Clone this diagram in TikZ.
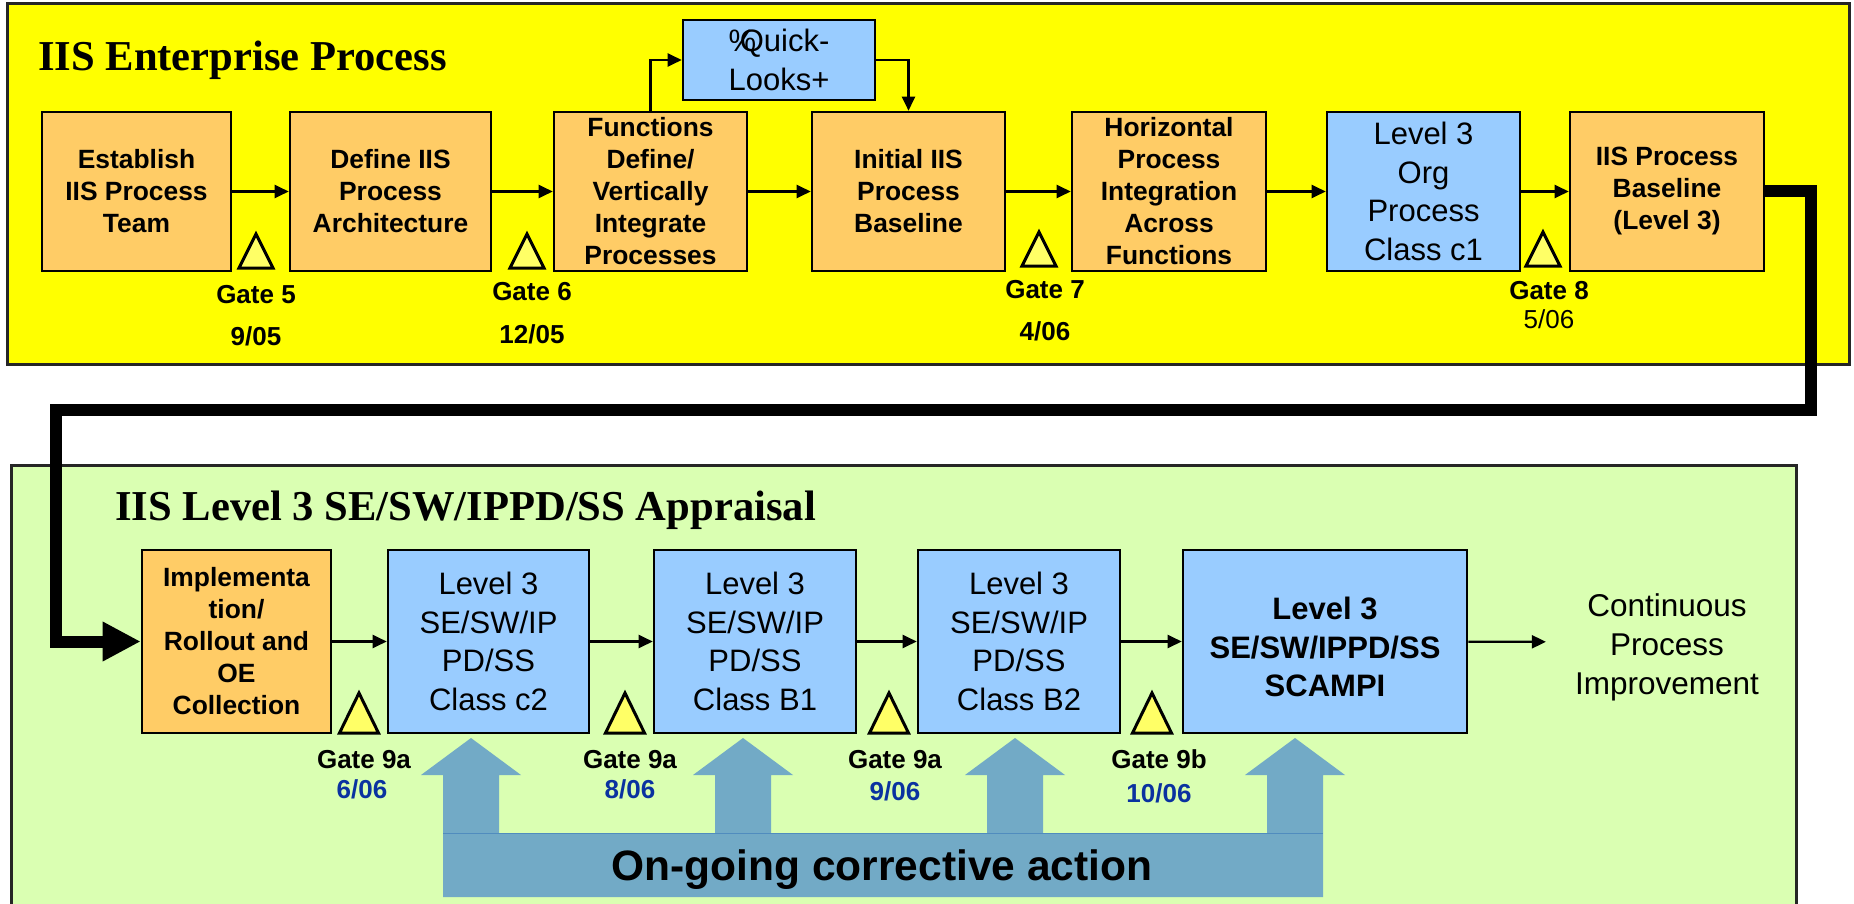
\documentclass[tikz,border=0pt]{standalone}
\usepackage{fontspec}
\setmainfont{Liberation Sans}
\newfontfamily\titlefont{Liberation Serif}
\usetikzlibrary{arrows.meta}

\definecolor{panelyellow}{RGB}{255,255,0}
\definecolor{panelgreen}{RGB}{218,255,178}
\definecolor{stepamber}{RGB}{255,204,102}
\definecolor{stepblue}{RGB}{153,204,255}
\definecolor{gatefill}{RGB}{255,255,102}
\definecolor{datenavy}{RGB}{10,50,160}
\definecolor{actionblue}{RGB}{114,170,198}
\definecolor{actionedge}{RGB}{80,140,190}

\tikzset{
  panel/.style={draw=black!85, line width=3pt},
  stepbox/.style={draw=black, line width=2.6pt, inner sep=0pt, align=center},
  amber/.style={stepbox, fill=stepamber, font=\fontsize{26.4}{32}\selectfont\bfseries},
  azure/.style={stepbox, fill=stepblue, font=\fontsize{31}{38.5}\selectfont},
  azurebold/.style={stepbox, fill=stepblue, font=\fontsize{31}{38.5}\selectfont\bfseries},
  flow/.style={line width=2.2pt, -{Triangle[length=14pt,width=13pt]}},
  feed/.style={line width=12pt, -{Triangle[length=38pt,width=37pt]}},
  gatelbl/.style={anchor=base, inner sep=0pt, font=\fontsize{26}{30}\selectfont\bfseries},
  dateplain/.style={anchor=base, inner sep=0pt, font=\fontsize{26}{30}\selectfont},
  datebold/.style={gatelbl, text=datenavy},
  paneltitle/.style={anchor=base west, inner sep=0pt, font=\fontsize{42.6}{48}\selectfont\titlefont\bfseries},
  gatemark/.style={draw=black, line width=3pt, fill=gatefill},
  smallgate/.pic={\draw[gatemark] (-17,0) -- (17,0) -- (0,-34) -- cycle;},
  tallgate/.pic={\draw[gatemark] (-19.5,0) -- (19.5,0) -- (0,-40) -- cycle;}
}
% taller first line: pushes a centred text block down a little
\newcommand\lowerfirst{\rule{0pt}{34pt}}

\begin{document}
\begin{tikzpicture}[x=1pt,y=-1pt]
\useasboundingbox (0,0) rectangle (1854,904);

% ---------- panels ----------
\draw[panel, fill=panelyellow] (7,4) rectangle (1849,364);
\draw[panel, fill=panelgreen] (11,465) rectangle (1796,930);

\node[paneltitle] (t1) at (38,71) {IIS Enterprise Process};
\node[paneltitle] (t2) at (115,520) {IIS Level 3 SE/SW/IPPD/SS Appraisal};

% ---------- enterprise process steps ----------
\node[amber, minimum width=189pt, minimum height=159pt] (b1) at (136.5,191.5) {Establish\\IIS Process\\Team};
\node[amber, minimum width=201pt, minimum height=159pt] (b2) at (390.5,191.5) {Define IIS\\Process\\Architecture};
\node[amber, minimum width=193pt, minimum height=159pt] (b3) at (650.5,191.5) {Functions\\Define/\\Vertically\\Integrate\\Processes};
\node[azure, minimum width=192pt, minimum height=80pt] (ql) at (779,60) {\%\kern-0.53em Quick-\\Looks+};
\node[amber, minimum width=193pt, minimum height=159pt] (b4) at (908.5,191.5) {Initial IIS\\Process\\Baseline};
\node[amber, minimum width=194pt, minimum height=159pt] (b5) at (1169,191.5) {Horizontal\\Process\\Integration\\Across\\Functions};
\node[azure, minimum width=193pt, minimum height=159pt] (b6) at (1423.5,191.5) {Level 3\\Org\\Process\\Class c1};
\node[amber, minimum width=194pt, minimum height=159pt] (b7) at (1667,191.5) {IIS Process\\Baseline\\(Level 3)};

\draw[flow] (b1) -- (b2);
\draw[flow] (b2) -- (b3);
\draw[flow] (b3) -- (b4);
\draw[flow] (b4) -- (b5);
\draw[flow] (b5) -- (b6);
\draw[flow] (b6) -- (b7);
\draw[flow] (b3.north) |- (ql.west);
\draw[flow] (ql.east) -| (b4.north);

% gates of the enterprise process
\pic at (256,268) {smallgate};
\pic at (527,268) {smallgate};
\pic at (1039,266) {smallgate};
\pic at (1543,266) {smallgate};
\node[gatelbl] (g5) at (256,303) {Gate 5};
\node[gatelbl] (d5) at (256,345) {9/05};
\node[gatelbl] (g6) at (532,300) {Gate 6};
\node[gatelbl] (d6) at (532,343) {12/05};
\node[gatelbl] (g7) at (1045,298) {Gate 7};
\node[gatelbl] (d7) at (1045,340) {4/06};
\node[gatelbl] (g8) at (1549,299) {Gate 8};
\node[dateplain] (d8) at (1549,328) {5/06};

% ---------- appraisal steps ----------
\node[amber, minimum width=189pt, minimum height=183pt] (im) at (236.5,641.5) {Implementa\\tion/\\Rollout and\\OE\\Collection};
\node[azure, minimum width=201pt, minimum height=183pt] (c2) at (488.5,641.5) {Level 3\\SE/SW/IP\\PD/SS\\Class c2};
\node[azure, minimum width=202pt, minimum height=183pt] (bb1) at (755,641.5) {Level 3\\SE/SW/IP\\PD/SS\\Class B1};
\node[azure, minimum width=202pt, minimum height=183pt] (bb2) at (1019,641.5) {Level 3\\SE/SW/IP\\PD/SS\\Class B2};
\node[azurebold, minimum width=284pt, minimum height=183pt] (sc) at (1325,641.5) {\lowerfirst Level 3\\SE/SW/IPPD/SS\\SCAMPI};
\node[align=center, inner xsep=29pt, inner ysep=0pt, font=\fontsize{31.5}{39}\selectfont] (cpi) at (1667,642) {\lowerfirst Continuous\\Process\\Improvement};

\draw[flow] (im) -- (c2);
\draw[flow] (c2) -- (bb1);
\draw[flow] (bb1) -- (bb2);
\draw[flow] (bb2) -- (sc);
\draw[flow] (sc) -- (cpi);

% gates of the appraisal
\pic at (359,733) {tallgate};
\pic at (625,733) {tallgate};
\pic at (889,733) {tallgate};
\pic at (1152,733) {tallgate};
\node[gatelbl] (g9a) at (364,768) {Gate 9a};
\node[datebold] (d9a) at (362,798) {6/06};
\node[gatelbl] (g9b) at (630,768) {Gate 9a};
\node[datebold] (d9b) at (630,798) {8/06};
\node[gatelbl] (g9c) at (895,768) {Gate 9a};
\node[datebold] (d9c) at (895,800) {9/06};
\node[gatelbl] (g9d) at (1159,768) {Gate 9b};
\node[datebold] (d9d) at (1159,802) {10/06};

% ---------- on-going corrective action band ----------
\fill[actionblue]
  (443,897) -- (443,775) -- (421,775) -- (471,738) -- (521,775) -- (499,775) -- (499,833)
  -- (715,833) -- (715,775) -- (693,775) -- (743,738) -- (793,775) -- (771,775) -- (771,833)
  -- (987,833) -- (987,775) -- (965,775) -- (1015,738) -- (1065,775) -- (1043,775) -- (1043,833)
  -- (1267,833) -- (1267,775) -- (1245,775) -- (1295,738) -- (1345,775) -- (1323,775) -- (1323,897)
  -- cycle;
\draw[actionedge, line width=0.8pt] (443,833) -- (1323,833);
\node[anchor=base, inner sep=0pt, font=\fontsize{42.5}{48}\selectfont\bfseries] (corr) at (882,880) {On-going corrective action};

% ---------- hand-over from the enterprise process to the appraisal ----------
\coordinate (bendA) at (1811,191.5);
\coordinate (bendB) at (1811,410);
\coordinate (bendC) at (56,410);
\draw[feed] (b7.east) -- (bendA) -- (bendB) -- (bendC) |- (im.west);
\end{tikzpicture}
\end{document}
